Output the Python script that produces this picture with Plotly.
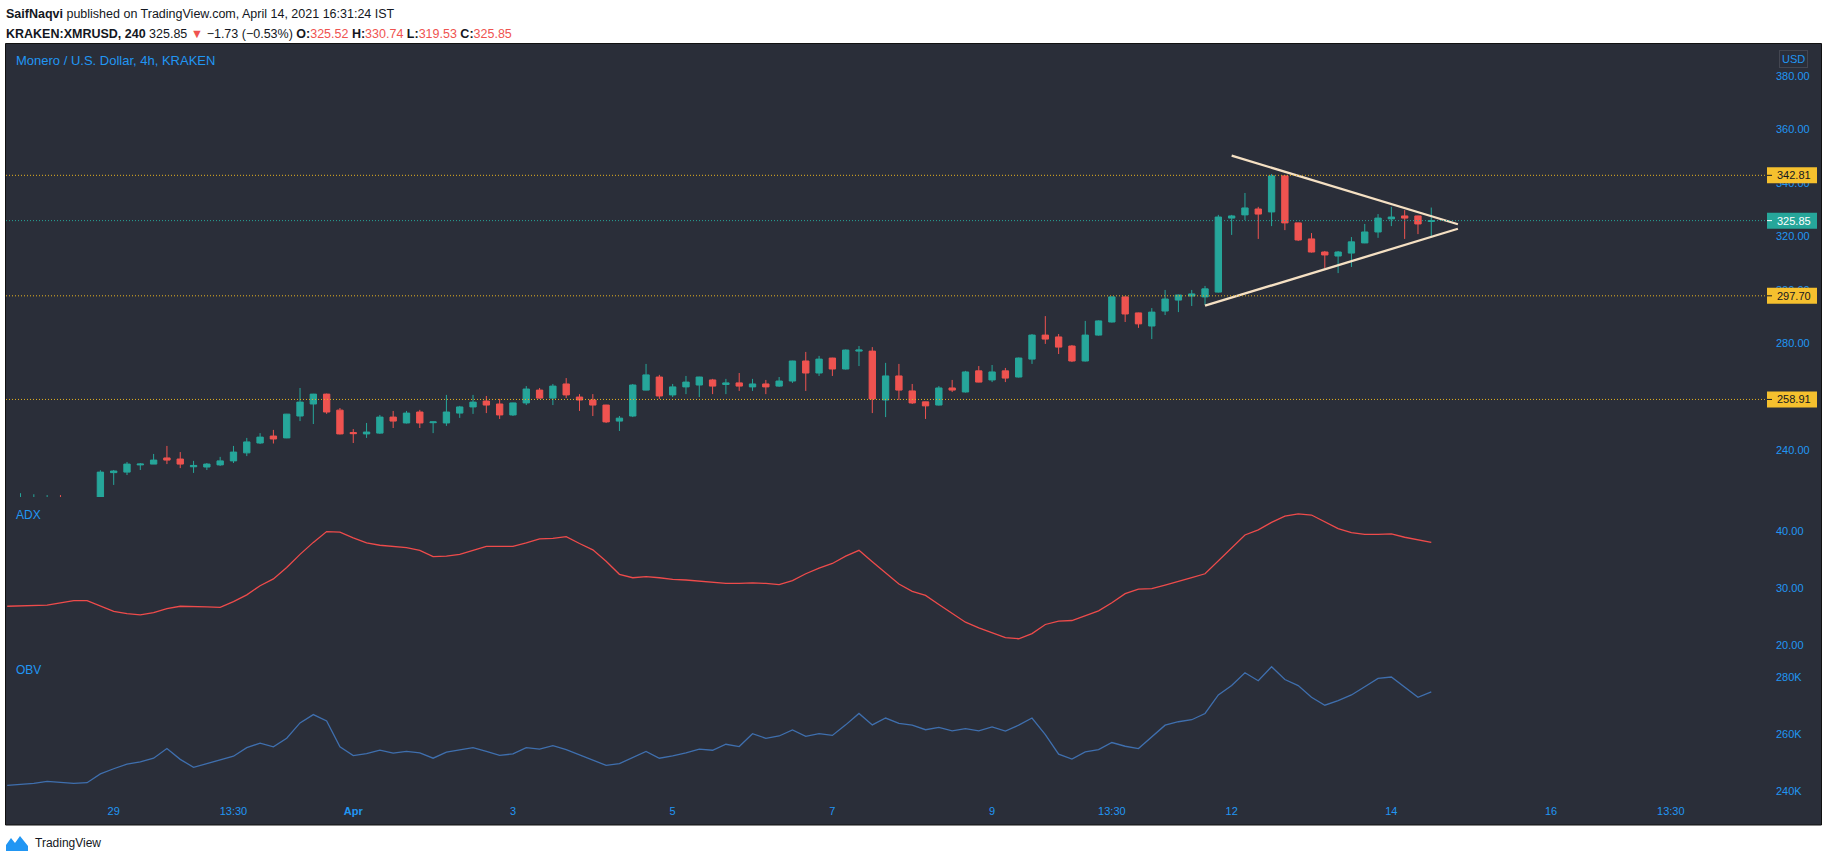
import pandas as pd
import plotly.graph_objects as go
from plotly.subplots import make_subplots

W, H = 1828, 862
BG = "#2a2e39"
GREEN = "#26a69a"
RED = "#ef5350"
BLUE = "#2196f3"
YELLOW = "#f5c02e"
CREAM = "#f5e0c3"
FONT = "Liberation Sans"

# 4h bars, IST, first one is off-screen below the price range
TIMES = pd.date_range("2021-03-27 17:30", periods=108, freq="4h")

OPEN = [219.0, 220.0, 221.2, 221.0, 222.0, 220.6, 219.4, 220.8, 231.5, 231.7, 234.4,
        234.7, 237.0, 236.6, 233.7, 233.6, 234.4, 235.9, 238.9, 242.6, 245.2,
        244.5, 252.7, 257.2, 260.9, 254.9, 246.5, 246.0, 246.3, 252.3, 250.1,
        254.2, 250.2, 250.1, 253.8, 256.1, 258.3, 257.2, 253.1, 257.6, 262.4,
        259.4, 264.7, 259.8, 258.7, 256.8, 250.8, 252.7, 262.4, 267.3, 260.6,
        263.6, 264.3, 266.2, 264.5, 265.1, 263.6, 264.7, 263.9, 265.8, 273.3,
        268.8, 274.4, 270.3, 277.0, 277.0, 258.7, 267.7, 262.1, 258.0, 256.8,
        263.2, 261.7, 269.6, 266.2, 269.6, 267.3, 274.0, 283.0, 282.3, 278.9,
        273.3, 283.0, 287.9, 297.3, 291.3, 286.4, 292.0, 296.1, 297.6, 297.3,
        299.1, 326.8, 328.0, 330.2, 329.1, 342.6, 325.0, 319.0, 314.1, 312.6,
        313.7, 317.5, 321.6, 326.5, 327.6, 327.6, 325.52]
HIGH = [221.5, 223.8, 223.4, 223.1, 223.1, 222.0, 221.8, 232.4, 232.5, 235.5, 235.1,
        238.5, 241.5, 239.2, 235.9, 235.1, 237.4, 241.5, 244.5, 246.3, 247.5,
        253.5, 263.2, 261.0, 261.1, 255.7, 247.8, 250.1, 253.1, 254.6, 254.6,
        255.0, 250.6, 260.6, 256.5, 260.6, 260.2, 259.1, 257.7, 263.9, 263.2,
        264.7, 266.9, 260.9, 260.9, 256.9, 252.7, 264.7, 272.2, 268.1, 264.7,
        267.7, 267.4, 266.6, 266.6, 268.8, 266.6, 266.2, 267.3, 273.4, 276.7,
        275.2, 274.5, 277.6, 278.9, 278.5, 272.6, 272.2, 264.7, 258.1, 263.9,
        266.2, 269.6, 271.4, 271.8, 270.7, 274.6, 283.4, 290.1, 283.4, 279.3,
        288.3, 288.5, 297.5, 297.4, 291.4, 293.1, 299.9, 298.1, 299.9, 301.4,
        328.0, 328.0, 336.2, 331.0, 343.3, 342.7, 325.1, 321.2, 314.5, 314.5,
        319.7, 324.6, 328.3, 331.0, 329.8, 327.7, 330.74]
LOW = [216.5, 218.5, 219.0, 219.5, 219.8, 218.0, 218.2, 220.2, 226.9, 230.6, 232.5,
       234.7, 234.7, 233.2, 231.4, 232.5, 234.0, 235.1, 237.7, 242.2, 242.4,
       244.4, 250.8, 249.7, 253.5, 245.8, 242.6, 244.5, 246.0, 248.2, 249.9,
       248.2, 246.3, 249.0, 252.0, 253.5, 253.8, 251.6, 252.7, 256.8, 259.2,
       256.8, 259.4, 254.6, 252.7, 250.1, 247.1, 252.3, 262.3, 259.1, 259.8,
       260.9, 259.8, 260.9, 260.9, 262.1, 262.1, 260.9, 263.6, 265.1, 262.1,
       267.7, 267.7, 270.1, 271.4, 253.8, 252.3, 258.7, 257.2, 251.6, 256.6,
       261.7, 261.5, 265.3, 265.4, 265.4, 267.1, 272.2, 279.7, 275.9, 272.9,
       273.1, 282.8, 287.7, 287.9, 285.7, 281.5, 290.5, 291.6, 293.9, 294.3,
       298.9, 320.5, 326.1, 319.0, 323.8, 322.3, 318.2, 313.9, 308.1, 306.2,
       308.5, 317.4, 319.4, 323.8, 319.0, 320.8, 319.53]
CLOSE = [220.0, 221.2, 221.8, 222.0, 220.6, 219.4, 220.8, 231.7, 232.1, 234.7, 234.7,
         236.2, 236.2, 234.7, 234.2, 234.7, 235.9, 239.2, 243.0, 244.8, 244.1,
         253.4, 257.9, 260.9, 254.2, 246.0, 246.1, 246.7, 252.3, 250.8, 253.8,
         250.1, 250.5, 254.2, 256.1, 257.9, 256.8, 253.1, 257.6, 262.8, 259.4,
         263.9, 260.6, 258.7, 256.8, 250.5, 251.9, 264.3, 268.1, 260.2, 263.6,
         265.4, 267.3, 263.9, 265.1, 263.9, 264.7, 263.6, 265.8, 273.3, 268.8,
         274.0, 270.3, 277.4, 277.4, 259.1, 267.7, 262.4, 257.6, 256.5, 263.2,
         262.4, 269.2, 265.4, 269.2, 266.9, 274.4, 283.0, 281.5, 278.5, 273.3,
         283.0, 288.3, 297.3, 290.9, 287.2, 291.6, 296.5, 298.0, 298.4, 300.3,
         327.2, 327.6, 330.6, 328.3, 342.6, 325.0, 318.6, 314.1, 313.0, 314.1,
         317.9, 321.6, 326.8, 327.2, 326.8, 324.6, 325.85]

ADX = [26.8, 26.9, 27.0, 27.0, 27.4, 27.8, 27.8, 26.9, 25.9, 25.5, 25.3,
       25.7, 26.4, 26.8, 26.8, 26.7, 26.6, 27.6, 28.8, 30.4, 31.6,
       33.6, 35.9, 38.0, 39.9, 39.8, 38.8, 37.9, 37.5, 37.3, 37.1,
       36.6, 35.5, 35.6, 35.9, 36.6, 37.3, 37.3, 37.3, 37.9, 38.6,
       38.7, 39.0, 37.8, 36.7, 34.7, 32.4, 31.8, 32.0, 31.8, 31.5,
       31.4, 31.2, 31.0, 30.8, 30.8, 30.9, 30.8, 30.6, 31.3, 32.5,
       33.5, 34.3, 35.6, 36.6, 34.6, 32.6, 30.7, 29.4, 28.7, 27.1,
       25.5, 24.0, 23.0, 22.2, 21.3, 21.1, 22.0, 23.6, 24.2, 24.3,
       25.1, 26.0, 27.4, 29.0, 29.8, 29.9, 30.5, 31.1, 31.8, 32.5,
       34.8, 37.1, 39.3, 40.2, 41.5, 42.6, 43.0, 42.8, 41.6, 40.4,
       39.7, 39.4, 39.4, 39.5, 38.9, 38.4, 38.0]

# OBV in thousands
OBV = [242.0, 242.3, 242.7, 243.4, 243.1, 242.7, 242.9, 246.0, 247.8, 249.4, 250.2,
       251.5, 254.9, 251.1, 248.3, 249.6, 251.0, 252.2, 255.2, 256.8, 255.5,
       258.5, 263.9, 266.8, 264.6, 255.5, 252.4, 253.1, 254.3, 253.3, 253.9,
       253.4, 251.5, 253.6, 254.4, 255.2, 253.9, 252.5, 253.0, 255.2, 254.7,
       255.9, 254.5, 252.6, 250.8, 249.0, 249.6, 251.7, 253.9, 251.5, 252.3,
       253.4, 254.7, 254.3, 256.4, 255.6, 260.1, 258.5, 259.3, 261.4, 259.2,
       260.1, 259.5, 263.2, 267.2, 263.2, 265.6, 263.7, 263.1, 261.5, 262.3,
       261.1, 261.9, 261.1, 262.5, 261.0, 263.1, 265.6, 259.8, 252.9, 251.2,
       253.7, 254.5, 257.0, 255.7, 254.9, 259.0, 263.1, 264.3, 265.0, 267.2,
       273.7, 277.0, 281.5, 278.7, 283.6, 279.1, 277.0, 272.9, 270.1, 271.7,
       273.7, 276.6, 279.5, 280.0, 276.5, 272.9, 274.8]

LEVELS = [342.81, 297.70, 258.91]
LAST_PRICE = 325.85

# symmetrical triangle drawing
TRI_UPPER = (["2021-04-12 01:30", "2021-04-14 21:30"], [350.2, 324.5])
TRI_LOWER = (["2021-04-11 17:30", "2021-04-14 21:30"], [294.0, 322.8])

PRICE_TICKS = [240, 260, 280, 300, 320, 340, 360, 380]
ADX_TICKS = [20, 30, 40]
OBV_TICKS = [240, 260, 280]
OBV_TEXT = ["240K", "260K", "280K"]

TICK_TIMES = ["2021-03-29 01:30", "2021-03-30 13:30", "2021-04-01 01:30", "2021-04-03 01:30",
              "2021-04-05 01:30", "2021-04-07 01:30", "2021-04-09 01:30", "2021-04-10 13:30",
              "2021-04-12 01:30", "2021-04-14 01:30", "2021-04-16 01:30", "2021-04-17 13:30"]
TICK_TEXT = ["29", "13:30", "<b>Apr</b>", "3", "5", "7", "9", "13:30", "12", "14", "16", "13:30"]

X_RANGE = ["2021-03-27 17:08", "2021-04-18 18:24"]

# pixel layout of the panes
L, R, T, B = 6, 1767, 43, 797
PW, PH = R - L, B - T


def px(x):
    return (x - L) / PW


def py(y):
    return (B - y) / PH


fig = make_subplots(rows=3, cols=1, shared_xaxes=True, vertical_spacing=0)

fig.add_trace(go.Candlestick(
    x=TIMES, open=OPEN, high=HIGH, low=LOW, close=CLOSE,
    increasing=dict(line=dict(color=GREEN, width=1), fillcolor=GREEN),
    decreasing=dict(line=dict(color=RED, width=1), fillcolor=RED),
    whiskerwidth=0, showlegend=False, hoverinfo="skip"), row=1, col=1)

fig.add_trace(go.Scatter(x=TIMES, y=ADX, mode="lines", line=dict(color="#ee4b4b", width=1.3),
                         showlegend=False, hoverinfo="skip"), row=2, col=1)
fig.add_trace(go.Scatter(x=TIMES, y=OBV, mode="lines", line=dict(color="#3f6fae", width=1.3),
                         showlegend=False, hoverinfo="skip"), row=3, col=1)

for xs, ys in (TRI_UPPER, TRI_LOWER):
    fig.add_trace(go.Scatter(x=xs, y=ys, mode="lines", line=dict(color=CREAM, width=2.3),
                             showlegend=False, hoverinfo="skip"), row=1, col=1)

axfont = dict(family=FONT, size=11, color=BLUE)
fig.update_xaxes(range=X_RANGE, showgrid=False, zeroline=False, showline=False, ticks="",
                 rangeslider_visible=False)
fig.update_xaxes(tickvals=TICK_TIMES, ticktext=TICK_TEXT, tickfont=axfont, ticklabelstandoff=6,
                 row=3, col=1)
fig.update_yaxes(side="right", showgrid=False, zeroline=False, showline=False, ticks="",
                 tickfont=axfont, ticklabelstandoff=8)

y_price0 = py(497)
y_adx0 = py(653)
fig.update_yaxes(domain=[y_price0, 1], range=[222.38, 392.35], tickvals=PRICE_TICKS,
                 tickformat=".2f", row=1, col=1)
fig.update_yaxes(domain=[y_adx0, y_price0], range=[18.60, 45.96], tickvals=ADX_TICKS,
                 tickformat=".2f", row=2, col=1)
fig.update_yaxes(domain=[0, y_adx0], range=[237.89, 288.42], tickvals=OBV_TICKS,
                 ticktext=OBV_TEXT, row=3, col=1)

shapes = [dict(type="rect", xref="paper", yref="paper", x0=px(5.5), x1=px(1821.5),
               y0=py(825), y1=py(43.5), fillcolor=BG, line=dict(color="#111111", width=1),
               layer="below")]
for lvl in LEVELS:
    shapes.append(dict(type="line", xref="paper", yref="y", x0=0, x1=1, y0=lvl, y1=lvl,
                       line=dict(color="#e8b421", width=1, dash="1px,2px")))
shapes.append(dict(type="line", xref="paper", yref="y", x0=0, x1=1, y0=LAST_PRICE, y1=LAST_PRICE,
                   line=dict(color=GREEN, width=1, dash="1px,2px")))

annotations = []
half = 8 / 2.671
price_tags = [(LEVELS[0], YELLOW, "#131722"), (LAST_PRICE, GREEN, "#ffffff"),
              (LEVELS[1], YELLOW, "#131722"), (LEVELS[2], YELLOW, "#131722")]
for lvl, fill, txt in price_tags:
    shapes.append(dict(type="rect", xref="paper", yref="y", x0=1, x1=px(1817), y0=lvl - half,
                       y1=lvl + half, fillcolor=fill, line=dict(width=0), layer="above"))
    shapes.append(dict(type="line", xref="paper", yref="y", x0=1, x1=px(1772), y0=lvl, y1=lvl,
                       line=dict(color=txt, width=1), layer="above"))
    annotations.append(dict(xref="paper", yref="y", x=px(1775), y=lvl, xanchor="left",
                            yanchor="middle", text=f"{lvl:.2f}", showarrow=False,
                            font=dict(family=FONT, size=11, color=txt)))

annotations += [
    dict(xref="paper", yref="paper", x=px(1794), y=py(59), text="USD", showarrow=False,
         font=dict(family=FONT, size=11, color=BLUE), bordercolor="#434651", borderwidth=1,
         borderpad=2, xanchor="center", yanchor="middle"),
    dict(xref="paper", yref="paper", x=px(14), y=py(60), xanchor="left", yanchor="middle",
         text="Monero / U.S. Dollar, 4h, KRAKEN", showarrow=False,
         font=dict(family=FONT, size=13, color=BLUE)),
    dict(xref="paper", yref="paper", x=px(14), y=py(515), xanchor="left", yanchor="middle",
         text="ADX", showarrow=False, font=dict(family=FONT, size=12, color=BLUE)),
    dict(xref="paper", yref="paper", x=px(14), y=py(670), xanchor="left", yanchor="middle",
         text="OBV", showarrow=False, font=dict(family=FONT, size=12, color=BLUE)),
    dict(xref="paper", yref="paper", x=px(4), y=py(14), xanchor="left", yanchor="middle",
         text="<b>SaifNaqvi</b> published on TradingView.com, April 14, 2021 16:31:24 IST",
         showarrow=False, font=dict(family=FONT, size=12.5, color="#131722")),
    dict(xref="paper", yref="paper", x=px(4), y=py(34), xanchor="left", yanchor="middle",
         text=("<b>KRAKEN:XMRUSD, 240</b> 325.85 <span style='color:#ef5350'>▼</span> "
               "−1.73 (−0.53%) <b>O:</b><span style='color:#ef5350'>325.52</span> "
               "<b>H:</b><span style='color:#ef5350'>330.74</span> "
               "<b>L:</b><span style='color:#ef5350'>319.53</span> "
               "<b>C:</b><span style='color:#ef5350'>325.85</span>"),
         showarrow=False, font=dict(family=FONT, size=12.5, color="#131722")),
    dict(xref="paper", yref="paper", x=px(33), y=py(843), xanchor="left", yanchor="middle",
         text="TradingView", showarrow=False, font=dict(family=FONT, size=12, color="#131722")),
]

# TradingView logo (simple cloud/mountain mark)
logo = [(6, 851), (6, 845), (11, 838), (15, 843), (20, 836), (28, 846), (28, 851)]
path = "M " + " L ".join(f"{px(a):.5f},{py(b):.5f}" for a, b in logo) + " Z"
shapes.append(dict(type="path", xref="paper", yref="paper", path=path, fillcolor="#2196f3",
                   line=dict(width=0)))

fig.update_layout(
    width=W, height=H,
    margin=dict(l=L, r=W - R, t=T, b=H - B),
    paper_bgcolor="white", plot_bgcolor="rgba(0,0,0,0)",
    boxgap=0.32, hovermode=False, showlegend=False,
    shapes=shapes, annotations=annotations,
)

# drop the default 8px body margin so the figure fills the window exactly
fig.write_html("out.html", config={"displayModeBar": False},
               post_script="document.body.style.margin = '0';")
